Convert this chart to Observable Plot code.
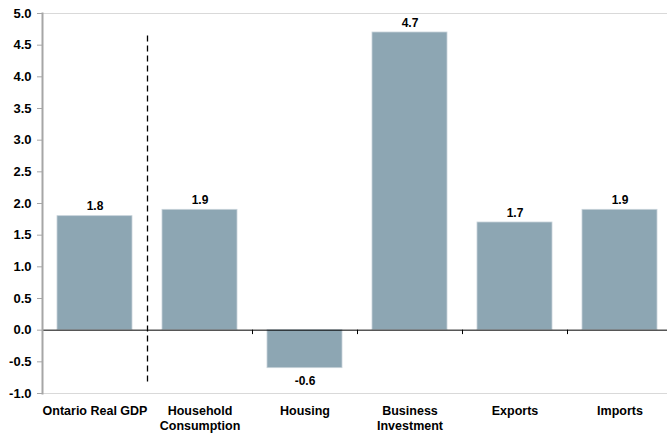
<!DOCTYPE html>
<html><head><meta charset="utf-8">
<script src="https://cdn.jsdelivr.net/npm/d3@7"></script>
<script src="https://cdn.jsdelivr.net/npm/@observablehq/plot@0.6"></script>
<style>
body{margin:0;background:#fff;}
svg{font-family:"Liberation Sans Narrow","Arial Narrow","Liberation Sans",Arial,sans-serif;}
</style></head><body><div id="chart"></div>
<script>
const categories = ["Ontario Real GDP", "Household\nConsumption", "Housing", "Business\nInvestment", "Exports", "Imports"];
const values = [1.8, 1.9, -0.6, 4.7, 1.7, 1.9];
const yTicks = [-1.0, -0.5, 0.0, 0.5, 1.0, 1.5, 2.0, 2.5, 3.0, 3.5, 4.0, 4.5, 5.0];
const dividerAfter = "Ontario Real GDP";
const dividerRange = [-0.82, 4.68];

const data = categories.map((c, i) => ({cat: c, v: values[i]}));
const W = 667, H = 435, ML = 42, xEnd = 672;
const step = (xEnd - ML) / categories.length;

const chart = Plot.plot({
  width: W, height: H,
  marginLeft: ML, marginRight: 0, marginTop: 13, marginBottom: 42,
  style: {fontSize: "13px", fontWeight: "bold", color: "#000", overflow: "hidden"},
  x: {domain: categories, range: [ML, xEnd], paddingInner: 2/7, paddingOuter: 1/7, label: null},
  y: {domain: [-1, 5], label: null},
  marks: [
    Plot.ruleY([5, -1], {stroke: "#d9d9d9", strokeWidth: 1}),
    Plot.barY(data, {x: "cat", y: "v", fill: "#8DA6B3", stroke: "#c7d3d9", strokeWidth: 0.8}),
    Plot.ruleY([0], {stroke: "#000", strokeWidth: 1}),
    Plot.ruleX(categories.slice(2), {x: d => d, y1: 0, y2: -0.07, dx: -step / 2, stroke: "#000"}),
    Plot.ruleX([dividerAfter], {x: d => d, y1: dividerRange[0], y2: dividerRange[1], dx: step / 2, stroke: "#000", strokeWidth: 1.3, strokeDasharray: "6,4"}),
    Plot.text(data.filter(d => d.v >= 0), {x: "cat", y: "v", text: d => d.v.toFixed(1), lineAnchor: "bottom", dy: -6, fontSize: 12, fontWeight: "bold"}),
    Plot.text(data.filter(d => d.v < 0), {x: "cat", y: "v", text: d => d.v.toFixed(1), lineAnchor: "top", dy: 8, fontSize: 12, fontWeight: "bold"}),
    Plot.axisY({ticks: yTicks, tickFormat: d => d.toFixed(1), tickSize: 5, tickPadding: 6, stroke: "#a6a6a6", fontSize: 13}),
    Plot.axisX({tickSize: 0, tickPadding: 11, fontSize: 12.5, lineHeight: 1.2}),
    Plot.frame({anchor: "left", stroke: "#a6a6a6", strokeWidth: 2})
  ]
});
document.getElementById("chart").appendChild(chart);
</script></body></html>
